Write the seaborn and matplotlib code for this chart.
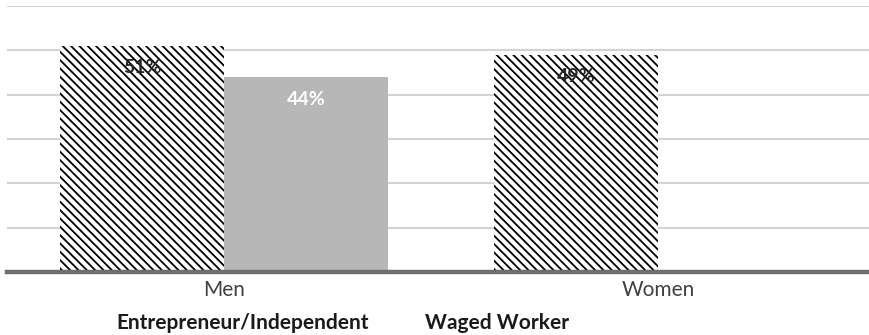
import matplotlib
matplotlib.use("Agg")
import matplotlib.pyplot as plt
from matplotlib.container import BarContainer
import seaborn as sns
import pandas as pd
import numpy as np

categories = ["Men", "Women"]
series = ["Entrepreneur/Independent", "Waged Worker"]
entrepreneur = [51, 49]
waged = [44, np.nan]
value_labels = {"Entrepreneur/Independent": ["51%", "49%"], "Waged Worker": ["44%", ""]}

df = pd.DataFrame({
    "gender": categories * 2,
    "type": [series[0]] * 2 + [series[1]] * 2,
    "value": entrepreneur + waged,
})

sns.set_theme(style="white")
plt.rcParams["font.family"] = ["Lato", "DejaVu Sans"]
plt.rcParams["hatch.linewidth"] = 1.3

fig = plt.figure(figsize=(8.7, 3.35), dpi=100)
ax = fig.add_axes([0.008, 0.188, 0.998, 0.794])

sns.barplot(data=df, x="gender", y="value", hue="type", order=categories,
            hue_order=series, palette=["white", "#b7b7b7"], width=0.756,
            gap=0, ax=ax, saturation=1, linewidth=0)

for p in ax.containers[0]:
    if p is None:
        continue
    p.set_hatch("\\\\\\\\")
    p.set_edgecolor("black")
    p.set_linewidth(0)

ax.set_ylim(0, 60)
ax.set_xlim(-0.5, 1.5)
ax.set_yticks(np.arange(0, 61, 10))
ax.yaxis.grid(True, color="#d4d4d4", linewidth=1.5)
ax.set_axisbelow(True)
ax.tick_params(axis="y", left=False, labelleft=False)
ax.tick_params(axis="x", bottom=False, labelsize=15, labelcolor="#404040", pad=0)
ax.set_xlabel("")
ax.set_ylabel("")
for s in ["top", "right", "left"]:
    ax.spines[s].set_visible(False)
ax.spines["bottom"].set_color("#6e6e6e")
ax.spines["bottom"].set_linewidth(3.2)

colors = ["#262626", "white"]
for cont, name, col in zip(ax.containers, series, colors):
    pairs = [(p, l) for p, l in zip(cont, value_labels[name]) if p is not None and l]
    bars = [p for p, _ in pairs]
    sub = BarContainer(bars, datavalues=[b.get_height() for b in bars],
                       orientation="vertical")
    ax.bar_label(sub, labels=[l for _, l in pairs], padding=-22,
                 fontsize=14, fontweight="bold", color=col)

handles, labels = ax.get_legend_handles_labels()
if ax.get_legend() is not None:
    ax.get_legend().remove()
leg = fig.legend(handles, labels, ncol=2, loc="center",
                 bbox_to_anchor=(0.394, 0.036), frameon=False,
                 handlelength=0, handletextpad=0, columnspacing=2.7,
                 prop={"size": 15, "weight": "bold"})
for h in leg.legend_handles:
    h.set_visible(False)
for t in leg.get_texts():
    t.set_color("#1a1a1a")

fig.savefig("out.png", dpi=100)
